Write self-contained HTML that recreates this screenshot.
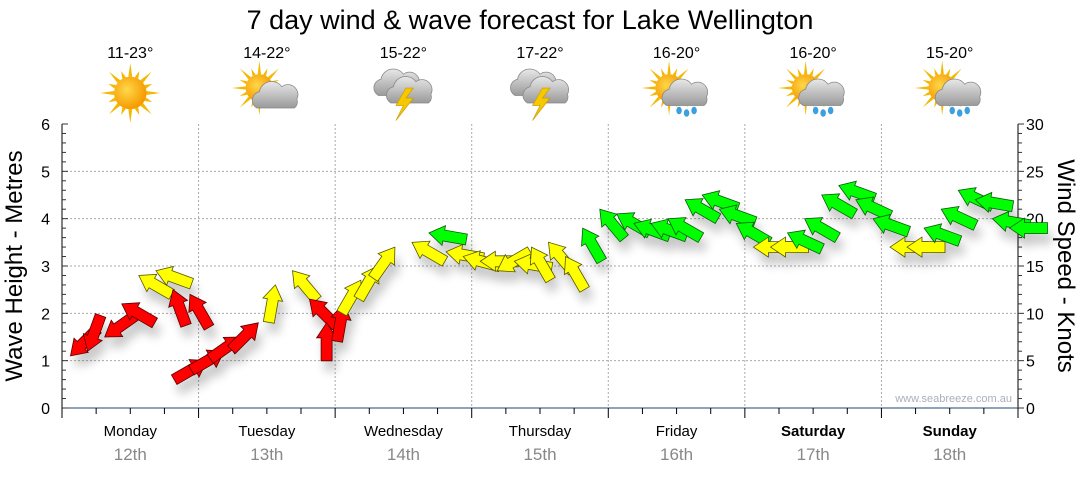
<!DOCTYPE html>
<html><head><meta charset="utf-8">
<style>
html,body{margin:0;padding:0;background:#fff;}
body{width:1080px;height:475px;overflow:hidden;font-family:"Liberation Sans",sans-serif;}
svg text{font-family:"Liberation Sans",sans-serif;}
</style></head>
<body>
<svg id="chart" width="1080" height="475" viewBox="0 0 1080 475" xmlns="http://www.w3.org/2000/svg">
<defs>
<filter id="shadow" x="-50%" y="-50%" width="200%" height="200%">
<feGaussianBlur in="SourceAlpha" stdDeviation="5"/>
<feOffset dx="4" dy="10"/>
<feComponentTransfer><feFuncA type="linear" slope="0.22"/></feComponentTransfer>
<feMerge><feMergeNode/><feMergeNode in="SourceGraphic"/></feMerge>
</filter>
<radialGradient id="sunG" cx="0.4" cy="0.4" r="0.6"><stop offset="0" stop-color="#ffd84a"/><stop offset="1" stop-color="#f59a00"/></radialGradient>
<linearGradient id="cloudG" x1="0" y1="0" x2="0" y2="1"><stop offset="0" stop-color="#e8e8e8"/><stop offset="1" stop-color="#9a9a9a"/></linearGradient>
</defs>
<text x="530" y="29" text-anchor="middle" font-size="27" fill="#000">7 day wind &amp; wave forecast for Lake Wellington</text>
<g id="header"></g>
<g id="grid"></g>
<g id="axes"></g>
<g id="arrows" filter="url(#shadow)"></g>
<text transform="translate(22,266) rotate(-90)" text-anchor="middle" font-size="24" fill="#000">Wave Height - Metres</text>
<text transform="translate(1058,266) rotate(90)" text-anchor="middle" font-size="24" fill="#000">Wind Speed - Knots</text>
<text x="1012" y="402" text-anchor="end" font-size="11" fill="#a8b0bc">www.seabreeze.com.au</text>
</svg>
<script>
const days = ["Monday","Tuesday","Wednesday","Thursday","Friday","Saturday","Sunday"];
const dates = ["12th","13th","14th","15th","16th","17th","18th"];
const temps = ["11-23°","14-22°","15-22°","17-22°","16-20°","16-20°","15-20°"];
const icons = ["sun","suncloud","storm","storm","sunrain","sunrain","sunrain"];
const waveTicks = [0,1,2,3,4,5,6];
const windTicks = [0,5,10,15,20,25,30];
// wind every 3 hours, starting Monday 00:00
const windSpeed = [
 5.5,6,7.5,11,14,14.5,12.5,12,
 5,6,7.5,9,13,14.5,11.5,9,
 11,13.5,15,17,17.5,18.5,16.5,16,
 15.5,14.5,15.5,17,17.5,16,19,21,
 20.5,19.5,19.5,20,22,22.5,21,19.5,
 17,17,18.5,20,22.5,23.5,22,20,
 17,17,19,21,23,22,20,19
];
const windDir = [
 225,200,235,300,300,290,340,330,
 60,60,55,45,10,320,315,0,
 10,30,30,35,300,280,280,285,
 270,240,280,330,320,330,330,320,
 300,290,290,300,300,290,290,300,
 270,270,295,300,300,290,295,290,
 270,270,290,295,295,280,280,270
];
const X0=62,X1=1018,Y0=408,Y1=124;
const xHour = h => X0 + h/168*(X1-X0);
const yWave = m => Y0 - m/6*(Y0-Y1);
const yKnot = k => Y0 - k/30*(Y0-Y1);
const NS="http://www.w3.org/2000/svg";
function mk(tag,attrs,parent,text){const e=document.createElementNS(NS,tag);for(const k in attrs)e.setAttribute(k,attrs[k]);if(text!==undefined)e.textContent=text;parent.appendChild(e);return e;}
const grid=document.getElementById('grid'),axes=document.getElementById('axes'),header=document.getElementById('header'),arrows=document.getElementById('arrows');
waveTicks.forEach(v=>{if(v>0&&v<6){const l=mk('line',{x1:X0,x2:X1,y1:yWave(v),y2:yWave(v),stroke:'#aaa','stroke-dasharray':'2,2'},grid);

}});
for(let d=1;d<7;d++){const l=mk('line',{x1:xHour(d*24),x2:xHour(d*24),y1:Y1,y2:Y0,stroke:'#aaa','stroke-dasharray':'2,2'},grid);

}
const la=mk('line',{x1:X0,x2:X0,y1:Y1,y2:Y0,stroke:'#000'},axes);


const ra=mk('line',{x1:X1,x2:X1,y1:Y1,y2:Y0,stroke:'#000'},axes);


const ba=mk('line',{x1:X0,x2:X1,y1:Y0,y2:Y0,stroke:'#1c4a6c'},axes);


for(let i=0;i<=30;i++){const v=i/5,y=yWave(v);mk('line',{x1:X0,x2:X0+(i%5==0?6:4),y1:y,y2:y,stroke:'#333'},axes);}
waveTicks.forEach(v=>{const t=mk('text',{x:X0-12,y:yWave(v)+6,'text-anchor':'end','font-size':16,fill:'#000'},axes,String(v));

});
for(let k=0;k<=30;k++){const y=yKnot(k);mk('line',{x1:X1,x2:X1+(k%5==0?6:4),y1:y,y2:y,stroke:'#333'},axes);}
windTicks.forEach(v=>{const t=mk('text',{x:X1+8,y:yKnot(v)+6,'font-size':16,fill:'#000'},axes,String(v));

});
for(let h=0;h<=168;h+=6){const x=xHour(h);mk('line',{x1:x,x2:x,y1:Y0,y2:Y0+(h%24==0?10:6),stroke:'#000'},axes);}
days.forEach((d,i)=>{const cx=xHour(i*24+12);
const bold=i>=5;
const t=mk('text',{x:cx,y:436,'text-anchor':'middle','font-size':15,fill:'#000','font-weight':bold?'bold':'normal'},axes,d);


const t2=mk('text',{x:cx,y:460,'text-anchor':'middle','font-size':17,fill:'#888'},axes,dates[i]);


const t3=mk('text',{x:cx,y:58,'text-anchor':'middle','font-size':16,fill:'#000'},header,temps[i]);


const g=mk('g',{transform:`translate(${cx},93) scale(1.25)`},header);


drawIcon(g,icons[i]);
});
function sun(g,x,y,r){for(let a=0;a<360;a+=22.5){const rad=a*Math.PI/180,len=(a/22.5)%2?r+6:r+11;
mk('polygon',{points:`${x+Math.cos(rad)*len},${y+Math.sin(rad)*len} ${x+Math.cos(rad+0.12)*r},${y+Math.sin(rad+0.12)*r} ${x+Math.cos(rad-0.12)*r},${y+Math.sin(rad-0.12)*r}`,fill:'#f5b800'},g);}
mk('circle',{cx:x,cy:y,r:r,fill:'url(#sunG)'},g);}
function cloud(g,x,y,s){mk('path',{d:`M${x-14*s},${y+8*s} a7 7 0 0 1 2,-13 a10 10 0 0 1 18,-4 a8 8 0 0 1 12,10 a6 6 0 0 1 -2,7 z`,fill:'url(#cloudG)',stroke:'#888','stroke-width':0.6},g);}
function drawIcon(g,type){
 if(type==='sun'){sun(g,0,0,13);}
 else if(type==='suncloud'){sun(g,-6,-4,11);cloud(g,6,4,1);}
 else if(type==='storm'){cloud(g,-6,-6,1);cloud(g,4,0,1);
  mk('polygon',{points:'2,-4 -6,10 0,10 -6,22 8,4 2,4 8,-4',fill:'#f5c800',stroke:'#c90','stroke-width':0.5},g);}
 else {sun(g,-6,-4,11);cloud(g,6,2,1);
  [[2,14],[8,16],[14,14]].forEach(p=>mk('ellipse',{cx:p[0],cy:p[1],rx:2.2,ry:3,fill:'#3aa0e0'},g));}
}
const colorOf=k=>k<12.8?['#ff0000','#550000']:(k<18?['#ffff00','#555500']:['#00ff00','#0a5a0a']);
windSpeed.forEach((k,i)=>{
 const h=i*3+1.5,x=xHour(h),y=yKnot(k),c=colorOf(k);
 const rot=windDir[i]-90;
 const p=mk('polygon',{points:'0,0 -15,-10 -15,-5.5 -38,-5.5 -38,5.5 -15,5.5 -15,10',fill:c[0],stroke:c[1],'stroke-width':0.8,transform:`translate(${x.toFixed(1)},${y.toFixed(1)}) rotate(${rot})`},arrows);
 
 
});
</script>
</body></html>
